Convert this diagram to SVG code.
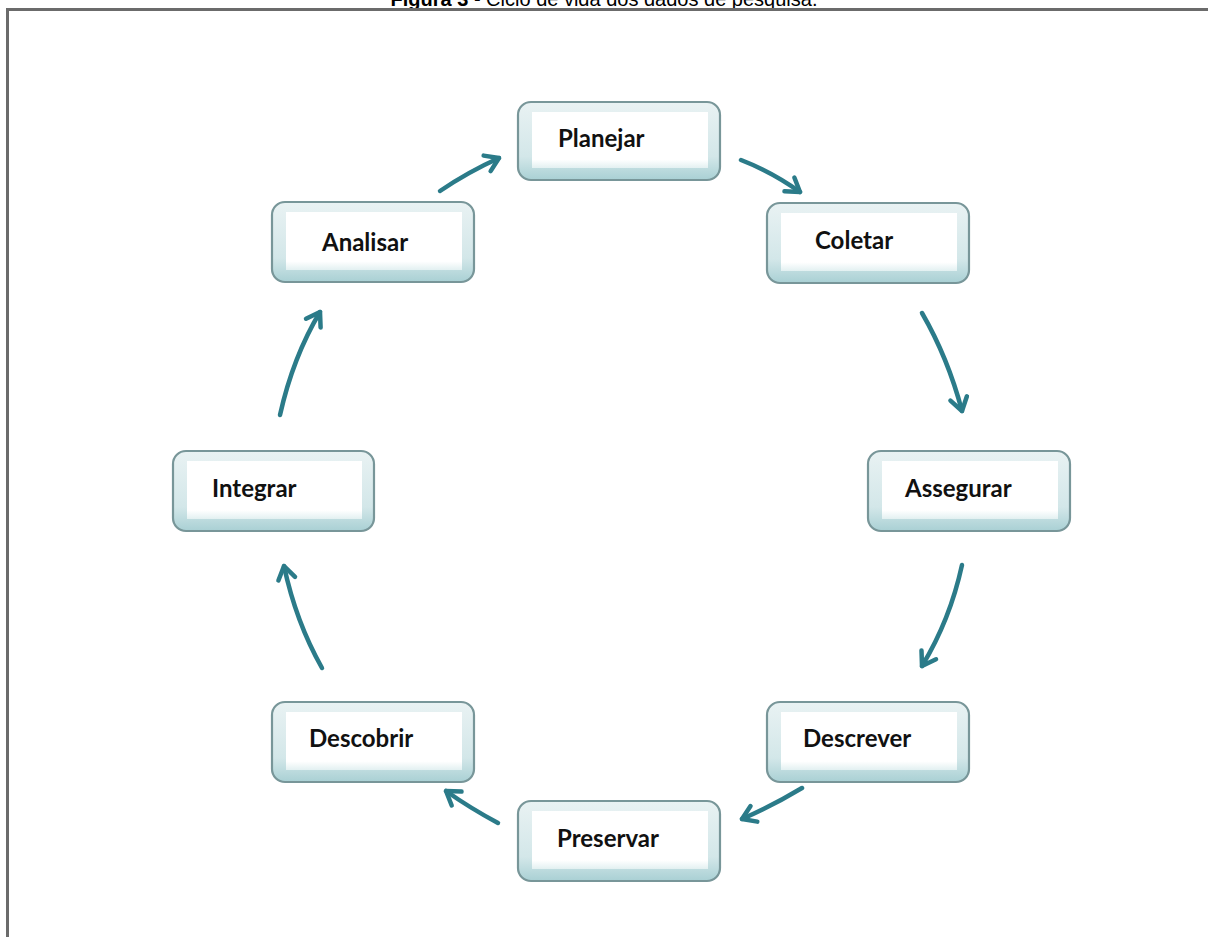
<svg xmlns="http://www.w3.org/2000/svg" width="1208" height="937" viewBox="0 0 1208 937">
  <style>
    .title { font-family: "Liberation Sans", Arial, sans-serif; font-size: 20px; fill: #000; }
    .label { font-family: Lato, "Open Sans", sans-serif; font-weight: bold; font-size: 24px; fill: #111; }
    .frame { stroke: #6b6b6b; stroke-width: 3; fill: none; }
    .box { fill: url(#boxFill); stroke: #789699; stroke-width: 2.2; }
    .arrow { fill: none; stroke: #2b7b89; stroke-width: 4.5; stroke-linecap: round; marker-end: url(#head); }
  </style>
  <defs>
    <linearGradient id="boxFill" x1="0" y1="0" x2="0" y2="1">
      <stop offset="0" stop-color="#e9f2f3"/>
      <stop offset="0.7" stop-color="#d3e7e9"/>
      <stop offset="1" stop-color="#a9d0d4"/>
    </linearGradient>
    <linearGradient id="innerFill" x1="0" y1="0" x2="0" y2="1">
      <stop offset="0" stop-color="#ffffff"/>
      <stop offset="0.85" stop-color="#ffffff"/>
      <stop offset="1" stop-color="#e2f0f1"/>
    </linearGradient>
    <marker id="head" viewBox="-20 -12 24 24" markerWidth="24" markerHeight="24" refX="0" refY="0" orient="auto" markerUnits="userSpaceOnUse">
      <path d="M-13,-8.5 L0,0 L-13,8.5" fill="none" stroke="#2b7b89" stroke-width="4.5" stroke-linecap="round" stroke-linejoin="round"/>
    </marker>
  </defs>

  <rect width="1208" height="937" fill="#ffffff"/>

  <!-- caption and frame -->
  <text class="title" x="604" y="6" text-anchor="middle"><tspan font-weight="bold">Figura 3</tspan> - Ciclo de vida dos dados de pesquisa.</text>
  <path class="frame" d="M7.5,937 V9.5 H1208"/>

  <!-- connectors -->
  <g id="connectors">
    <path class="arrow" d="M440,191 Q468,172 499,158"/>
    <path class="arrow" d="M741,160 Q772,172 800,192"/>
    <path class="arrow" d="M922,313 Q948,358 962,411"/>
    <path class="arrow" d="M962,565 Q950,620 922,666"/>
    <path class="arrow" d="M802,788 Q772,806 742,819"/>
    <path class="arrow" d="M498,823 Q470,808 446,791"/>
    <path class="arrow" d="M322,668 Q296,622 284,566"/>
    <path class="arrow" d="M280,415 Q293,357 320,312"/>
  </g>

  <!-- nodes -->
  <g id="node-planejar">
    <rect class="box" x="518" y="102" width="202" height="78" rx="13"/>
    <rect x="532" y="112" width="176" height="56" fill="url(#innerFill)"/>
    <text class="label" x="558" y="147">Planejar</text>
  </g>
  <g id="node-coletar">
    <rect class="box" x="767" y="203" width="202" height="80" rx="13"/>
    <rect x="781" y="213" width="176" height="58" fill="url(#innerFill)"/>
    <text class="label" x="815" y="249">Coletar</text>
  </g>
  <g id="node-assegurar">
    <rect class="box" x="868" y="451" width="202" height="80" rx="13"/>
    <rect x="882" y="461" width="176" height="58" fill="url(#innerFill)"/>
    <text class="label" x="905" y="497">Assegurar</text>
  </g>
  <g id="node-descrever">
    <rect class="box" x="767" y="702" width="202" height="80" rx="13"/>
    <rect x="781" y="712" width="176" height="58" fill="url(#innerFill)"/>
    <text class="label" x="803" y="747">Descrever</text>
  </g>
  <g id="node-preservar">
    <rect class="box" x="518" y="801" width="202" height="80" rx="13"/>
    <rect x="532" y="811" width="176" height="58" fill="url(#innerFill)"/>
    <text class="label" x="557" y="847">Preservar</text>
  </g>
  <g id="node-descobrir">
    <rect class="box" x="272" y="702" width="202" height="80" rx="13"/>
    <rect x="286" y="712" width="176" height="58" fill="url(#innerFill)"/>
    <text class="label" x="309" y="747">Descobrir</text>
  </g>
  <g id="node-integrar">
    <rect class="box" x="173" y="451" width="201" height="80" rx="13"/>
    <rect x="187" y="461" width="175" height="58" fill="url(#innerFill)"/>
    <text class="label" x="212" y="497">Integrar</text>
  </g>
  <g id="node-analisar">
    <rect class="box" x="272" y="202" width="202" height="80" rx="13"/>
    <rect x="286" y="212" width="176" height="58" fill="url(#innerFill)"/>
    <text class="label" x="322" y="251">Analisar</text>
  </g>
</svg>
